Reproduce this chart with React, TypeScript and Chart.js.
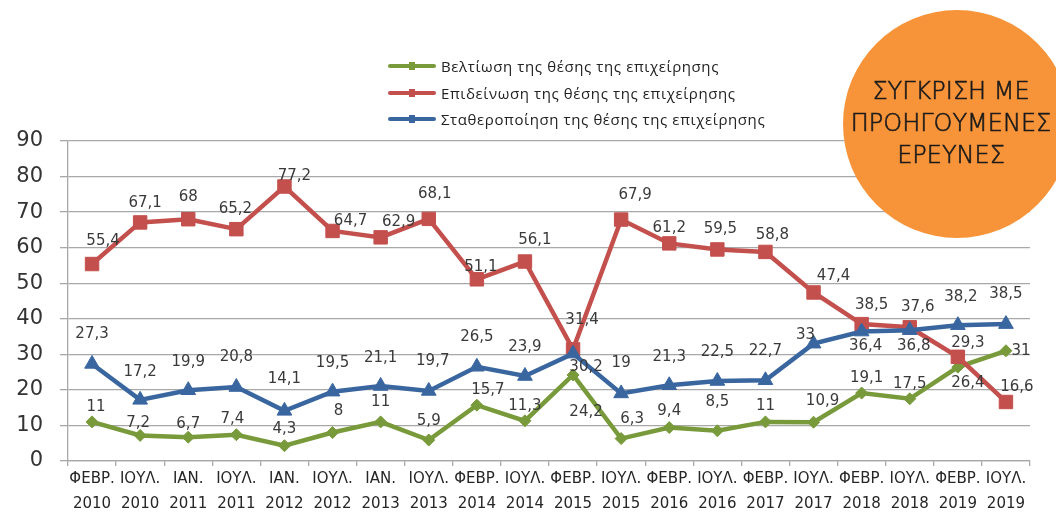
import React, { useEffect, useRef } from "react";
import { Chart, registerables } from "chart.js";

Chart.register(...registerables);

const categories: string[][] = [
  ["ΦΕΒΡ.", "2010"], ["ΙΟΥΛ.", "2010"], ["ΙΑΝ.", "2011"], ["ΙΟΥΛ.", "2011"],
  ["ΙΑΝ.", "2012"], ["ΙΟΥΛ.", "2012"], ["ΙΑΝ.", "2013"], ["ΙΟΥΛ.", "2013"],
  ["ΦΕΒΡ.", "2014"], ["ΙΟΥΛ.", "2014"], ["ΦΕΒΡ.", "2015"], ["ΙΟΥΛ.", "2015"],
  ["ΦΕΒΡ.", "2016"], ["ΙΟΥΛ.", "2016"], ["ΦΕΒΡ.", "2017"], ["ΙΟΥΛ.", "2017"],
  ["ΦΕΒΡ.", "2018"], ["ΙΟΥΛ.", "2018"], ["ΦΕΒΡ.", "2019"], ["ΙΟΥΛ.", "2019"],
];

const seriesNames: string[] = [
  "Βελτίωση της θέσης της επιχείρησης",
  "Επιδείνωση της θέσης της επιχείρησης",
  "Σταθεροποίηση της θέσης της επιχείρησης",
];

const improvement: number[] = [11, 7.2, 6.7, 7.4, 4.3, 8, 11, 5.9, 15.7, 11.3, 24.2, 6.3, 9.4, 8.5, 11, 10.9, 19.1, 17.5, 26.4, 31];
const deterioration: number[] = [55.4, 67.1, 68, 65.2, 77.2, 64.7, 62.9, 68.1, 51.1, 56.1, 31.4, 67.9, 61.2, 59.5, 58.8, 47.4, 38.5, 37.6, 29.3, 16.6];
const stabilization: number[] = [27.3, 17.2, 19.9, 20.8, 14.1, 19.5, 21.1, 19.7, 26.5, 23.9, 30.2, 19, 21.3, 22.5, 22.7, 33, 36.4, 36.8, 38.2, 38.5];

const yMin = 0;
const yMax = 90;
const yStep = 10;

// label offsets (pixels, relative to each point)
const improvementLabelOffsets: number[][] = [[4, -15], [-2, -12], [0, -13], [-4, -16], [0, -17], [6, -21], [0, -20], [0, -19], [11, -15], [0, -15], [13, 37], [11, -19], [0, -16], [0, -29], [0, -16], [9, -21], [5, -15], [0, -15], [10, 16], [15, 0]];
const deteriorationLabelOffsets: number[][] = [[11, -23], [5, -19], [0, -22], [-1, -20], [10, -10], [18, -10], [18, -15], [6, -25], [4, -12], [10, -21], [9, -29], [14, -24], [0, -15], [3, -20], [7, -17], [20, -16], [10, -19], [8, -20], [10, -14], [11, -15]];
const stabilizationLabelOffsets: number[][] = [[0, -30], [0, -28], [0, -28], [0, -30], [0, -32], [0, -29], [0, -28], [4, -30], [0, -30], [0, -29], [13, 13], [0, -30], [0, -28], [0, -29], [0, -29], [-8, -9], [4, 15], [4, 16], [3, -28], [0, -30]];

const GREEN = "#789A3B";
const RED = "#C4504E";
const BLUE = "#3A66A0";
const GRID = "#A8A8A8";

const fmt = (v: number) => String(v).replace(".", ",");

const labelPlugin = {
  id: "valueLabels",
  afterDatasetsDraw(chart: any) {
    const ctx = chart.ctx;
    ctx.save();
    ctx.font = "15px 'DejaVu Sans'";
    ctx.fillStyle = "#3A3A3A";
    ctx.textAlign = "center";
    ctx.textBaseline = "middle";
    chart.data.datasets.forEach((ds: any, di: number) => {
      const meta = chart.getDatasetMeta(di);
      const offs: number[][] = ds.labelOffsets;
      meta.data.forEach((pt: any, i: number) => {
        const o = offs[i] || [0, -20];
        ctx.fillText(fmt(ds.data[i]), pt.x + o[0], pt.y + o[1]);
      });
    });
    ctx.restore();
  },
};

const legendItems = [
  { name: seriesNames[0], color: GREEN },
  { name: seriesNames[1], color: RED },
  { name: seriesNames[2], color: BLUE },
];

export default function App() {
  const canvasRef = useRef<HTMLCanvasElement | null>(null);

  useEffect(() => {
    if (!canvasRef.current) return;
    const chart = new Chart(canvasRef.current, {
      type: "line",
      data: {
        labels: categories,
        datasets: [
          {
            label: seriesNames[0],
            data: improvement,
            borderColor: GREEN,
            backgroundColor: GREEN,
            borderWidth: 4.5,
            pointStyle: "rectRot",
            pointRadius: 6,
            pointBorderWidth: 1,
            tension: 0,
            order: 3,
            labelOffsets: improvementLabelOffsets,
          } as any,
          {
            label: seriesNames[1],
            data: deterioration,
            borderColor: RED,
            backgroundColor: RED,
            borderWidth: 4.5,
            pointStyle: "rect",
            pointRadius: 9.5,
            pointBorderWidth: 1,
            tension: 0,
            order: 2,
            labelOffsets: deteriorationLabelOffsets,
          } as any,
          {
            label: seriesNames[2],
            data: stabilization,
            borderColor: BLUE,
            backgroundColor: BLUE,
            borderWidth: 4.5,
            pointStyle: "triangle",
            pointRadius: 8.5,
            pointBorderWidth: 1,
            tension: 0,
            order: 1,
            labelOffsets: stabilizationLabelOffsets,
          } as any,
        ],
      },
      options: {
        responsive: false,
        animation: false,
        devicePixelRatio: 1,
        layout: { padding: { left: 0, right: 26, top: 141, bottom: 0 } },
        plugins: {
          legend: { display: false },
          tooltip: { enabled: false },
          title: { display: false },
        },
        scales: {
          x: {
            offset: true,
            grid: {
              offset: true,
              drawOnChartArea: false,
              drawTicks: true,
              tickLength: 5,
              color: GRID,
              lineWidth: 1.3,
            },
            border: { display: true, color: GRID, width: 1.3 },
            ticks: {
              autoSkip: false,
              maxRotation: 0,
              minRotation: 0,
              padding: 1,
              color: "#262626",
              font: { family: "'DejaVu Sans'", size: 15, lineHeight: "25px" },
            },
            afterFit: (s: any) => {
              s.height = 54;
            },
          },
          y: {
            min: yMin,
            max: yMax,
            ticks: {
              stepSize: yStep,
              padding: 17,
              color: "#333333",
              font: { family: "'DejaVu Sans'", size: 21 },
            },
            grid: {
              color: GRID,
              lineWidth: 1.3,
              tickLength: 8,
              drawTicks: true,
            },
            border: { display: true, color: GRID, width: 1.3 },
            afterFit: (s: any) => {
              s.width = 68;
            },
          },
        },
      },
      plugins: [labelPlugin],
    });
    return () => chart.destroy();
  }, []);

  return (
    <div
      style={{
        position: "fixed",
        left: 0,
        top: 0,
        width: 1056,
        height: 515,
        overflow: "hidden",
        background: "#ffffff",
      }}
    >
      <canvas ref={canvasRef} width={1056} height={515} style={{ display: "block", position: "absolute", left: 0, top: 0 }} />
      <div style={{ position: "absolute", left: 388, top: 53 }}>
        {legendItems.map((it, i) => (
          <div key={i} style={{ display: "flex", alignItems: "center", height: 26.5 }}>
            <div style={{ position: "relative", width: 48, height: 4, background: it.color, borderRadius: 2 }}>
              <div style={{ position: "absolute", left: 21, top: -2, width: 6, height: 8, background: it.color }} />
            </div>
            <span
              style={{
                marginLeft: 5,
                fontFamily: "'Open Sans'",
                fontSize: 15,
                letterSpacing: "0.6px",
                color: "#222222",
                whiteSpace: "nowrap",
                lineHeight: "20px",
              }}
            >
              {it.name}
            </span>
          </div>
        ))}
      </div>
      <div
        style={{
          position: "absolute",
          left: 843,
          top: 10,
          width: 228,
          height: 228,
          borderRadius: "50%",
          background: "#F7943A",
          display: "flex",
          flexDirection: "column",
          alignItems: "center",
          justifyContent: "center",
          boxSizing: "border-box",
          paddingRight: 12,
          paddingBottom: 3,
          fontFamily: "'DejaVu Sans'",
          fontWeight: 200,
          WebkitTextStroke: "0.6px #1A1A1A",
          fontSize: 24,
          lineHeight: "32px",
          color: "#1A1A1A",
          textAlign: "center",
        }}
      >
        <div>ΣΥΓΚΡΙΣΗ ΜΕ</div>
        <div>ΠΡΟΗΓΟΥΜΕΝΕΣ</div>
        <div>ΕΡΕΥΝΕΣ</div>
      </div>
    </div>
  );
}
